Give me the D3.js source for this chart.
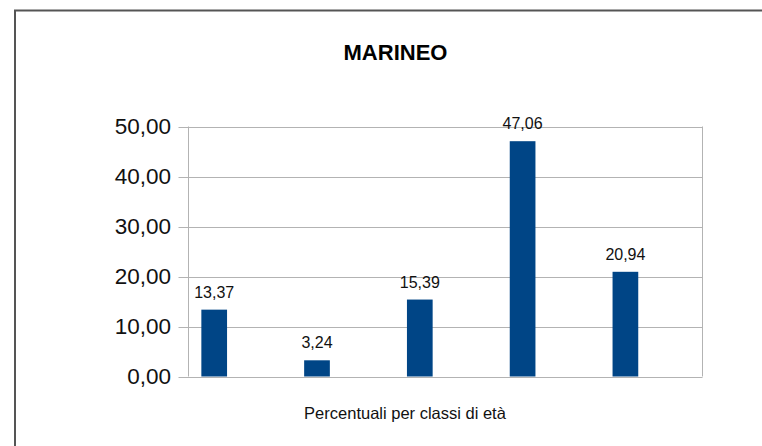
<!DOCTYPE html>
<html>
<head>
<meta charset="utf-8">
<script src="https://cdn.jsdelivr.net/npm/d3@7"></script>
<style>
  body { margin: 0; background: #fff; }
  svg { display: block; font-family: "Liberation Sans", Arial, sans-serif; }
</style>
</head>
<body>
<svg width="762" height="446"></svg>
<script>
const svg = d3.select('svg')

const title = 'MARINEO'
const xTitle = 'Percentuali per classi di età'
const categories = ['c1', 'c2', 'c3', 'c4', 'c5']
const values = [13.37, 3.24, 15.39, 47.06, 20.94]
const yTicks = [0, 10, 20, 30, 40, 50]

const fmt = v => d3.format('.2f')(v).replace('.', ',')

const margin = { left: 188.5, right: 702.5, top: 126.5, bottom: 376.5 }

const x = d3.scaleBand()
            .domain(categories)
            .range([margin.left, margin.right])
const y = d3.scaleLinear()
            .domain([0, 50])
            .range([margin.bottom, margin.top])

// outer border (cropped on right / bottom)
svg.append('path')
   .attr('d', 'M15,446 V10.5 H762')
   .attr('fill', 'none')
   .attr('stroke', '#555')
   .attr('stroke-width', 2)

svg.append('text')
   .attr('x', 395.5).attr('y', 60)
   .attr('text-anchor', 'middle')
   .attr('font-size', 22).attr('font-weight', 'bold')
   .text(title)

// gridlines
svg.append('g').selectAll('line')
   .data(yTicks)
   .enter().append('line')
   .attr('x1', margin.left - 10).attr('x2', margin.right)
   .attr('y1', d => Math.round(y(d)) + 0.5).attr('y2', d => Math.round(y(d)) + 0.5)
   .attr('stroke', '#b3b3b3')

// frame
svg.append('line')
   .attr('x1', margin.left).attr('x2', margin.left)
   .attr('y1', margin.top).attr('y2', margin.bottom)
   .attr('stroke', '#b3b3b3')
svg.append('line')
   .attr('x1', margin.right).attr('x2', margin.right)
   .attr('y1', margin.top).attr('y2', margin.bottom)
   .attr('stroke', '#b3b3b3')

svg.append('g').selectAll('text')
   .data(yTicks)
   .enter().append('text')
   .attr('x', 171).attr('y', d => y(d) + 7.5)
   .attr('text-anchor', 'end')
   .attr('font-size', 22.5).attr('fill', '#111')
   .text(fmt)

const bw = x.bandwidth()
svg.append('g').selectAll('rect')
   .data(values)
   .enter().append('rect')
   .attr('x', (d, i) => x(categories[i]) + bw * 0.125)
   .attr('width', bw * 0.25)
   .attr('y', d => y(d))
   .attr('height', d => y(0) - y(d))
   .attr('fill', '#004586')

svg.append('g').selectAll('text')
   .data(values)
   .enter().append('text')
   .attr('x', (d, i) => x(categories[i]) + bw * 0.25)
   .attr('y', d => y(d) - 12)
   .attr('text-anchor', 'middle')
   .attr('font-size', 16).attr('fill', '#111')
   .text(fmt)

svg.append('text')
   .attr('x', 405).attr('y', 419)
   .attr('text-anchor', 'middle')
   .attr('font-size', 16.5).attr('fill', '#111')
   .text(xTitle)
</script>
</body>
</html>
